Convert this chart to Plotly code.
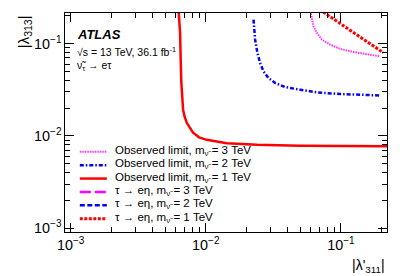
import plotly.graph_objects as go

# ---------------- data ----------------
obs3_x = [0.0600, 0.0627, 0.0664, 0.0723, 0.0833, 0.0989, 0.1240, 0.1647, 0.1954]
obs3_y = [0.212, 0.154, 0.1306, 0.1104, 0.0975, 0.0875, 0.0812, 0.0759, 0.0727]

obs2_x = [0.02255, 0.02317, 0.02410, 0.02523, 0.02672, 0.02909, 0.0326, 0.0387, 0.0500, 0.0664, 0.0989, 0.1954]
obs2_y = [0.1824, 0.1104, 0.0793, 0.0617, 0.0500, 0.0424, 0.0374, 0.0338, 0.0316, 0.0296, 0.0284, 0.0274]

obs1_x = [0.0063, 0.00645, 0.00652, 0.00659, 0.00679, 0.00697, 0.00723, 0.00805, 0.00892, 0.01017, 0.01432, 0.0239, 0.05, 0.1, 0.22]
obs1_y = [0.22, 0.132, 0.067, 0.0377, 0.0192, 0.0161, 0.01384, 0.0108, 0.00963, 0.00905, 0.00833, 0.00798, 0.0078, 0.00775, 0.0077]

teta3_x, teta3_y = [], []
teta2_x, teta2_y = [], []
teta1_x = [0.074, 0.1, 0.2056]
teta1_y = [0.22, 0.163, 0.0798]

labels = [
    "Observed limit, m<sub>ν̃</sub> = 3 TeV",
    "Observed limit, m<sub>ν̃</sub> = 2 TeV",
    "Observed limit, m<sub>ν̃</sub> = 1 TeV",
    "τ → eη, m<sub>ν̃</sub> = 3 TeV",
    "τ → eη, m<sub>ν̃</sub> = 2 TeV",
    "τ → eη, m<sub>ν̃</sub> = 1 TeV",
]

styles = [
    dict(color="#ff33ff", width=2, dash="1.5px,1px"),
    dict(color="#0000ff", width=2.5, dash="4px,2px,1.5px,2px"),
    dict(color="#ff0000", width=2.5, dash="solid"),
    dict(color="#ff00ff", width=2.5, dash="11px,4px"),
    dict(color="#0000ff", width=2.5, dash="5px,2.5px"),
    dict(color="#ff0000", width=3, dash="3px,1.5px"),
]

series = [(obs3_x, obs3_y), (obs2_x, obs2_y), (obs1_x, obs1_y),
          (teta3_x, teta3_y), (teta2_x, teta2_y), (teta1_x, teta1_y)]

FONT = "Liberation Sans, Arial, Helvetica, sans-serif"

fig = go.Figure()
for (xs, ys), st, lab in zip(series, styles, labels):
    fig.add_trace(go.Scatter(x=xs, y=ys, mode="lines", line=st, name=lab,
                             showlegend=False, hoverinfo="skip"))

# manual compact legend (ROOT style)
row_y = [0.366, 0.305, 0.244, 0.183, 0.122, 0.061]
for ry, st, lab in zip(row_y, styles, labels):
    fig.add_shape(type="line", xref="paper", yref="paper",
                  x0=0.046, x1=0.130, y0=ry, y1=ry, line=st)
    fig.add_annotation(xref="paper", yref="paper", x=0.148, y=ry + 0.004,
                       xanchor="left", yanchor="middle", showarrow=False,
                       text=lab, font=dict(size=11.5, color="black", family=FONT))

# ATLAS labels
fig.add_annotation(xref="paper", yref="paper", x=0.030, y=0.902, xanchor="left", yanchor="middle",
                   showarrow=False, text="<b><i>ATLAS</i></b>",
                   font=dict(size=13, color="black", family=FONT))
fig.add_annotation(xref="paper", yref="paper", x=0.030, y=0.825, xanchor="left", yanchor="middle",
                   showarrow=False, text="√s = 13 TeV, 36.1 fb<sup>-1</sup>",
                   font=dict(size=10.5, color="black", family=FONT))
fig.add_annotation(xref="paper", yref="paper", x=0.030, y=0.758, xanchor="left", yanchor="middle",
                   showarrow=False, text="ν̃<sub>τ</sub> → eτ",
                   font=dict(size=10.5, color="black", family=FONT))

# axis titles
fig.add_annotation(xref="paper", yref="paper", x=-0.125, y=1.0, xanchor="center", yanchor="top",
                   showarrow=False, textangle=-90, text="|λ<sub>313</sub>|",
                   font=dict(size=15, color="black", family=FONT))
fig.add_annotation(xref="paper", yref="paper", x=1.0, y=-0.105, xanchor="right", yanchor="top",
                   showarrow=False, text="|λ'<sub>311</sub>|",
                   font=dict(size=14, color="black", family=FONT))

axis_common = dict(
    type="log", showgrid=False, zeroline=False,
    showline=True, linecolor="black", linewidth=1.3, mirror="ticks",
    ticks="inside", ticklen=9, tickwidth=1, tickcolor="black",
    dtick=1, exponentformat="power", showexponent="all",
    tickfont=dict(size=11.5, color="black", family=FONT),
    minor=dict(ticks="inside", ticklen=5, tickwidth=1, tickcolor="black", showgrid=False),
)

fig.update_layout(
    width=407, height=276,
    margin=dict(l=65, r=20, t=13, b=44),
    paper_bgcolor="white", plot_bgcolor="white",
    font=dict(family=FONT, color="black"),
    xaxis=dict(range=[-3.042, -0.659], **axis_common),
    yaxis=dict(range=[-3.043, -0.668], **axis_common),
)

fig.write_html("out.html", config={"displayModeBar": False},
               post_script="document.body.style.margin='0px';")
